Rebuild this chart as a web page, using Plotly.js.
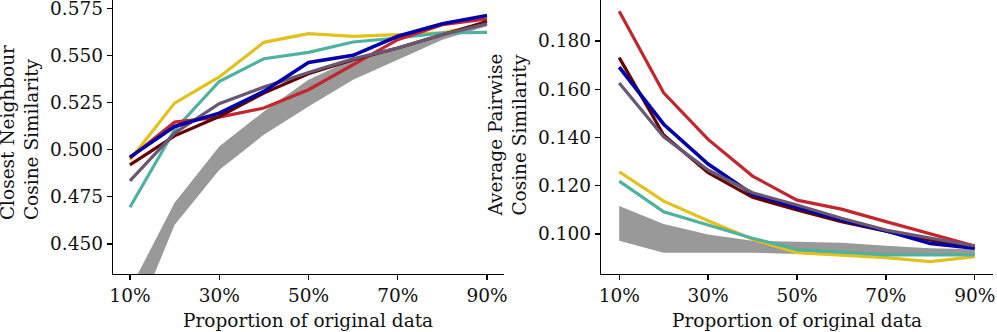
<!DOCTYPE html>
<html>
<head>
<meta charset="utf-8">
<script src="https://cdn.plot.ly/plotly-3.0.1.min.js"></script>
<style>
  html, body { margin: 0; padding: 0; background: #fff; }
  #chart { width: 997px; height: 332px; }
</style>
</head>
<body>
<div id="chart"></div>
<script>
// proportion of original data (%)
const PROPORTIONS = [10, 20, 30, 40, 50, 60, 70, 80, 90];
const TICK_VALS = [10, 30, 50, 70, 90];
const TICK_TEXT = ['10%', '30%', '50%', '70%', '90%'];

// left panel: closest neighbour cosine similarity
const CN_YELLOW = [0.4947, 0.5248, 0.5387, 0.5571, 0.5617, 0.5603, 0.5612, 0.5621, 0.5670];
const CN_TEAL   = [0.4695, 0.5106, 0.5363, 0.5484, 0.5518, 0.5573, 0.5594, 0.5621, 0.5624];
const CN_RED    = [0.4956, 0.5147, 0.5174, 0.5222, 0.5319, 0.5452, 0.5585, 0.5665, 0.5695];
const CN_MAROON = [0.4920, 0.5074, 0.5177, 0.5301, 0.5404, 0.5479, 0.5541, 0.5612, 0.5682];
const CN_PURPLE = [0.4835, 0.5089, 0.5245, 0.5333, 0.5411, 0.5483, 0.5541, 0.5612, 0.5669];
const CN_BLUE   = [0.4961, 0.5124, 0.5195, 0.5310, 0.5464, 0.5502, 0.5603, 0.5670, 0.5714];
const CN_BAND_LO = [0.4023, 0.4601, 0.4893, 0.5080, 0.5230, 0.5372, 0.5479, 0.5585, 0.5656];
const CN_BAND_HI = [0.4259, 0.4718, 0.5017, 0.5204, 0.5372, 0.5483, 0.5541, 0.5612, 0.5665];

// right panel: average pairwise cosine similarity
const AP_YELLOW = [0.1258, 0.1136, 0.1055, 0.0978, 0.0922, 0.0913, 0.0902, 0.0885, 0.0906];
const AP_TEAL   = [0.1219, 0.1092, 0.1037, 0.0982, 0.0936, 0.0924, 0.0913, 0.0913, 0.0913];
const AP_RED    = [0.1923, 0.1585, 0.1392, 0.1240, 0.1140, 0.1103, 0.1051, 0.0999, 0.0950];
const AP_MAROON = [0.1731, 0.1410, 0.1254, 0.1152, 0.1099, 0.1051, 0.1012, 0.0975, 0.0945];
const AP_PURPLE = [0.1626, 0.1403, 0.1265, 0.1171, 0.1120, 0.1065, 0.1016, 0.0982, 0.0950];
const AP_BLUE   = [0.1692, 0.1455, 0.1290, 0.1165, 0.1110, 0.1058, 0.1013, 0.0961, 0.0941];
const AP_BAND_LO = [0.0972, 0.0922, 0.0922, 0.0922, 0.0917, 0.0917, 0.0917, 0.0913, 0.0913];
const AP_BAND_HI = [0.1116, 0.1041, 0.0998, 0.0972, 0.0968, 0.0964, 0.0951, 0.0941, 0.0937];

const COLORS = {
  yellow: '#e2c11c',
  teal:   '#4fb19f',
  red:    '#c1272d',
  maroon: '#650000',
  purple: '#6a5872',
  blue:   '#0000a8',
  band:   '#999999',
};

const FONT = 'DejaVu Serif, serif';
const TXT = '#111111';
const FS = 18.5;

function panelTraces(xa, ya, lo, hi, series) {
  const out = [];
  out.push({
    x: PROPORTIONS, y: lo, xaxis: xa, yaxis: ya,
    type: 'scatter', mode: 'lines', line: { width: 0, color: COLORS.band },
    hoverinfo: 'skip', showlegend: false,
  });
  out.push({
    x: PROPORTIONS, y: hi, xaxis: xa, yaxis: ya,
    type: 'scatter', mode: 'lines', line: { width: 0, color: COLORS.band },
    fill: 'tonexty', fillcolor: COLORS.band,
    hoverinfo: 'skip', showlegend: false,
  });
  series.forEach(([vals, color, w]) => {
    out.push({
      x: PROPORTIONS, y: vals, xaxis: xa, yaxis: ya,
      type: 'scatter', mode: 'lines',
      line: { color, width: w },
      showlegend: false,
    });
  });
  return out;
}

const traces = [
  ...panelTraces('x', 'y', CN_BAND_LO, CN_BAND_HI, [
    [CN_YELLOW, COLORS.yellow, 3.2],
    [CN_TEAL, COLORS.teal, 3.2],
    [CN_RED, COLORS.red, 3.2],
    [CN_MAROON, COLORS.maroon, 3.2],
    [CN_PURPLE, COLORS.purple, 3.2],
    [CN_BLUE, COLORS.blue, 3.6],
  ]),
  ...panelTraces('x2', 'y2', AP_BAND_LO, AP_BAND_HI, [
    [AP_YELLOW, COLORS.yellow, 3.2],
    [AP_TEAL, COLORS.teal, 3.2],
    [AP_RED, COLORS.red, 3.2],
    [AP_MAROON, COLORS.maroon, 3.2],
    [AP_BLUE, COLORS.blue, 3.6],
    [AP_PURPLE, COLORS.purple, 3.2],
  ]),
];

const xBase = {
  range: [6.2, 93.8],
  tickvals: TICK_VALS, ticktext: TICK_TEXT,
  showline: true, linecolor: '#000', linewidth: 1.3,
  ticks: 'outside', ticklen: 5, tickwidth: 1.3, tickcolor: '#000',
  showgrid: false, zeroline: false,
  tickfont: { family: FONT, size: FS, color: TXT },
  ticklabeloverflow: 'allow',
  fixedrange: true,
};
const yBase = {
  showline: true, linecolor: '#000', linewidth: 1.3,
  ticks: 'outside', ticklen: 5, tickwidth: 1.3, tickcolor: '#000',
  showgrid: false, zeroline: false,
  tickfont: { family: FONT, size: FS, color: TXT },
  ticklabeloverflow: 'allow',
  fixedrange: true,
};

const layout = {
  width: 997, height: 332,
  margin: { l: 0, r: 0, t: 0, b: 0 },
  paper_bgcolor: '#fff', plot_bgcolor: '#fff',
  showlegend: false,
  xaxis: { ...xBase, domain: [0.1133, 0.5055], anchor: 'y' },
  yaxis: { ...yBase, domain: [0.1747, 1], anchor: 'x',
    range: [0.434, 0.5796], tickvals: [0.45, 0.475, 0.5, 0.525, 0.55, 0.575],
    tickformat: '.3f' },
  xaxis2: { ...xBase, domain: [0.6028, 0.996], anchor: 'y2', range: [5.9, 94.1] },
  yaxis2: { ...yBase, domain: [0.1747, 1], anchor: 'x2',
    range: [0.0834, 0.197], tickvals: [0.1, 0.12, 0.14, 0.16, 0.18],
    tickformat: '.3f' },
  annotations: [
    { text: 'Closest Neighbour<br>Cosine Similarity', textangle: -90, align: 'left',
      xref: 'paper', yref: 'paper', x: 0.0195, y: 0.331, xanchor: 'center', yanchor: 'bottom',
      showarrow: false, font: { family: FONT, size: FS, color: TXT } },
    { text: 'Average Pairwise<br>Cosine Similarity', textangle: -90, align: 'left',
      xref: 'paper', yref: 'paper', x: 0.5095, y: 0.343, xanchor: 'center', yanchor: 'bottom',
      showarrow: false, font: { family: FONT, size: FS, color: TXT } },
    { text: 'Proportion of original data',
      xref: 'paper', yref: 'paper', x: 0.309, y: 0.036, xanchor: 'center', yanchor: 'middle',
      showarrow: false, font: { family: FONT, size: FS, color: TXT } },
    { text: 'Proportion of original data',
      xref: 'paper', yref: 'paper', x: 0.7994, y: 0.036, xanchor: 'center', yanchor: 'middle',
      showarrow: false, font: { family: FONT, size: FS, color: TXT } },
  ],
};

Plotly.newPlot('chart', traces, layout, { displayModeBar: false, staticPlot: true });
</script>
</body>
</html>
